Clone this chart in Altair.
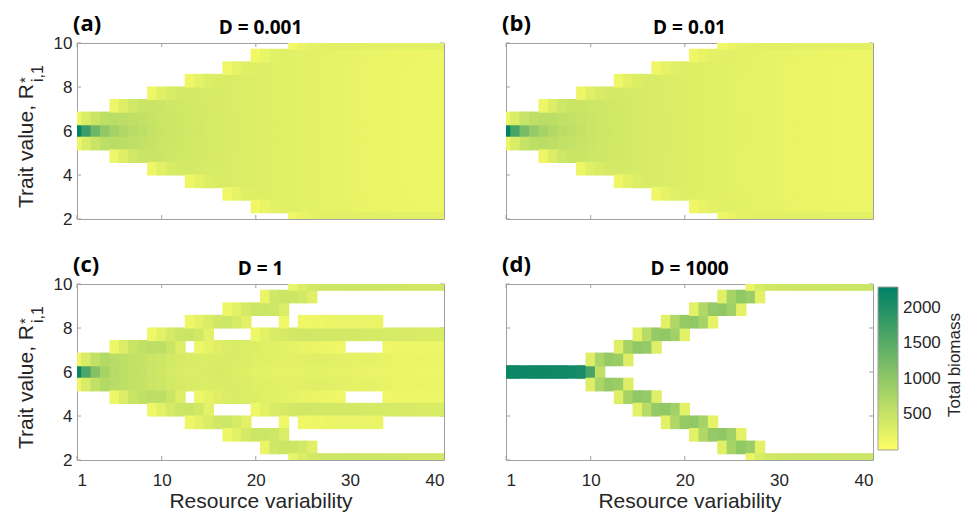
import altair as alt
import pandas as pd

# ---------------- data ----------------
x_ticks = [1, 10, 20, 30, 40]
y_ticks = [2, 4, 6, 8, 10]
trait_values = [2.0, 2.571, 3.143, 3.714, 4.286, 4.857, 5.429, 6.0,
                6.571, 7.143, 7.714, 8.286, 8.857, 9.429, 10.0]
half_bin = 0.2857
cbar_ticks = [500, 1000, 1500, 2000]
cbar_domain = [0, 2290]
cbar_title = "Total biomass"

panel_letters = ["(a)", "(b)", "(c)", "(d)"]
panel_titles = ["D = 0.001", "D = 0.01", "D = 1", "D = 1000"]

# panel (a): biomass per trait row, (first column, values per column)
A7 = [2250, 1750, 1300, 1000, 820, 700, 630, 580, 520, 480,
      450, 430, 410, 395, 380, 365, 350, 340, 325, 310,
      295, 285, 275, 265, 255, 245, 235, 225, 215, 205,
      198, 192, 186, 180, 175, 170, 166, 162, 158, 155]
A8 = [160, 320, 480, 580, 620, 600, 570, 540, 500, 470,
      445, 425, 405, 390, 375, 360, 348, 336, 322, 308,
      295, 285, 275, 265, 255, 245, 235, 225, 215, 205,
      198, 192, 186, 180, 175, 170, 166, 162, 158, 155]
A9 = [160, 300, 420, 480, 480, 460,
      440, 420, 400, 385, 372, 358, 345, 333, 320, 306,
      294, 284, 274, 264, 254, 244, 234, 224, 214, 205,
      198, 192, 186, 180, 175, 170, 166, 162, 158, 155]
A10 = [150, 270, 350, 390, 390, 380, 368, 355, 343, 332, 320, 306,
       294, 284, 274, 264, 254, 244, 234, 224, 214, 205,
       198, 192, 186, 180, 175, 170, 166, 162, 158, 155]
A11 = [145, 240, 310, 340, 340, 330, 318, 305,
       294, 284, 274, 264, 254, 244, 234, 224, 214, 205,
       198, 192, 186, 180, 175, 170, 166, 162, 158, 155]
A12 = [140, 220, 280, 300,
       295, 286, 276, 266, 256, 246, 236, 226, 216, 207,
       200, 194, 188, 182, 177, 172, 168, 164, 160, 157]
A13 = [135, 200, 250, 270, 268, 260, 250, 240, 230, 222, 214,
       206, 200, 194, 188, 183, 178, 174, 170, 166, 162]
A14 = [130, 190, 235, 255, 262, 265, 265, 264, 262, 260, 258, 256, 254,
       252, 250, 248, 246]
rows_a = {7: [(1, A7)], 8: [(1, A8)], 6: [(1, A8)], 9: [(5, A9)], 5: [(5, A9)],
          10: [(9, A10)], 4: [(9, A10)], 11: [(13, A11)], 3: [(13, A11)],
          12: [(17, A12)], 2: [(17, A12)], 13: [(20, A13)], 1: [(20, A13)],
          14: [(24, A14)], 0: [(24, A14)]}

# panel (b)
B7 = [2250, 1650, 1200, 950, 800, 690, 620, 570, 515, 475,
      445, 425, 405, 390, 375, 360, 347, 335, 322, 308,
      295, 285, 275, 265, 255, 245, 235, 225, 215, 205,
      198, 192, 186, 180, 175, 170, 166, 162, 158, 155]
B8 = [170, 330, 490, 580, 610, 590, 560, 530, 495, 465,
      440, 420, 402, 387, 372, 358, 346, 334, 320, 306,
      294, 284, 274, 264, 254, 244, 234, 224, 214, 205,
      198, 192, 186, 180, 175, 170, 166, 162, 158, 155]
B9 = [170, 310, 430, 480, 478, 458,
      438, 418, 398, 383, 370, 356, 344, 332, 318, 305,
      293, 283, 273, 263, 253, 243, 233, 223, 213, 204,
      197, 191, 185, 180, 175, 170, 166, 162, 158, 155]
B10 = [155, 275, 350, 385, 385, 376, 365, 352, 341, 330, 318, 305,
       293, 283, 273, 263, 253, 243, 233, 223, 213, 204,
       197, 191, 185, 180, 175, 170, 166, 162, 158, 155]
B11 = [150, 245, 310, 338, 338, 328, 316, 304,
       293, 283, 273, 263, 253, 243, 233, 223, 213, 204,
       197, 191, 185, 180, 175, 170, 166, 162, 158, 155]
B12 = [145, 225, 280, 300, 294, 285, 275, 265, 255, 245, 235, 225, 215, 206,
       199, 193, 187, 181, 176, 171, 167, 163, 159, 156]
B13 = [140, 210, 255, 268, 262, 252, 242, 232, 222, 214,
       206, 200, 194, 188, 183, 178, 174, 170, 166, 162]
B14 = [135, 195, 235, 255, 262, 264, 264, 263, 261, 259, 257, 255, 253,
       251, 249, 247, 245]
rows_b = {7: [(1, B7)], 8: [(1, B8)], 6: [(1, B8)], 9: [(5, B9)], 5: [(5, B9)],
          10: [(9, B10)], 4: [(9, B10)], 11: [(13, B11)], 3: [(13, B11)],
          12: [(17, B12)], 2: [(17, B12)], 13: [(21, B13)], 1: [(21, B13)],
          14: [(24, B14)], 0: [(24, B14)]}

# panel (c)
C7 = [2200, 1600, 1100, 800, 650, 600, 560, 520, 470, 420,
      380, 350, 330, 320, 340, 360, 340, 310, 280, 260,
      250, 240, 230, 230, 240, 250, 250, 240, 230, 220,
      210, 200, 195, 190, 185, 180, 175, 170, 165, 160]
C8 = [170, 350, 560, 680, 640, 580, 540, 500, 460, 430,
      400, 370, 350, 330, 320, 330, 340, 330, 310, 290,
      280, 270, 260, 260, 270, 280, 280, 270, 260, 250,
      240, 230, 220, 210, 200, 195, 190, 185, 180, 175]
C9 = [(5, [160, 320, 480, 560, 600, 580, 480, 300]),
      (14, [150, 220, 280, 320, 340, 330, 310, 290, 270, 250, 230, 210, 195, 180, 165, 150]),
      (34, [140, 160, 170, 170, 170, 165, 160])]
C10 = [(9, [150, 260, 380, 460, 480, 420, 260]),
       (20, [150, 250, 320, 370, 400, 410, 410, 405, 400, 395, 390, 385, 380, 375,
             370, 365, 360, 355, 350, 345, 340])]
C11 = [(13, [140, 230, 330, 420, 440, 380, 250]),
       (23, [150]),
       (25, [130, 150, 170, 185, 195, 200, 200, 195, 185])]
C12 = [(17, [150, 260, 380, 450, 470, 430, 330])]
C13 = [(21, [200, 420, 460, 450, 400, 280])]
C14 = [(24, [200, 320, 400, 430, 440, 445, 445, 445, 440, 440, 435, 430, 425, 420,
             415, 410, 405])]
rows_c = {7: [(1, C7)], 8: [(1, C8)], 6: [(1, C8)], 9: C9, 5: C9, 10: C10, 4: C10,
          11: C11, 3: C11, 12: C12, 2: C12, 13: C13, 1: C13, 14: C14, 0: C14}

# panel (d)
D7 = [(1, [2200, 2190, 2180, 2170, 2160, 2150, 2140, 2120, 2080, 1650, 550])]
D8 = [(10, [300, 750, 950, 900, 300])]
D9 = [(13, [300, 800, 1000, 950, 300])]
D10 = [(15, [250, 650, 950, 1000, 850, 250])]
D11 = [(18, [250, 700, 950, 1000, 800, 220])]
D12 = [(21, [250, 700, 950, 1000, 850, 230])]
D13 = [(24, [280, 800, 1000, 900, 250])]
D14 = [(27, [200, 350, 420, 440, 450, 450, 450, 450, 455, 460, 460, 465, 470, 470])]
rows_d = {7: D7, 8: D8, 6: D8, 9: D9, 5: D9, 10: D10, 4: D10, 11: D11, 3: D11,
          12: D12, 2: D12, 13: D13, 1: D13, 14: D14, 0: D14}

all_rows = [rows_a, rows_b, rows_c, rows_d]

# ---------------- styling ----------------
W, H = 367, 176
FRAME = "#a0a0a0"
TXT = "#262626"
LBL_FONT = "Liberation Sans"
BOLD_FONT = "Open Sans"
X_HALF = 0.55     # half cell width incl. a tiny overlap that hides anti-alias seams
Y_HALF = half_bin + 0.025

xscale = alt.Scale(domain=[1, 40], nice=False, zero=False)
yscale = alt.Scale(domain=[2, 10], nice=False, zero=False)
cscale = alt.Scale(domain=cbar_domain, range=["#FFFF66", "#008066"], interpolate="rgb")

color_enc = alt.Color(
    "biomass:Q", scale=cscale,
    legend=alt.Legend(
        type="gradient", orient="none", legendX=801, legendY=244, direction="vertical",
        gradientLength=163, gradientThickness=20, values=cbar_ticks, format="d",
        title=None,
        labelFontSize=17, labelFont=LBL_FONT, labelColor=TXT, labelOffset=5,
        gradientStrokeColor=FRAME, gradientStrokeWidth=1,
    ),
)


def text_layer(txt, **kw):
    pos = {k: kw.pop(k) for k in ["x", "y"]}
    return alt.Chart(pd.DataFrame({"t": [txt]})).mark_text(**kw).encode(
        text="t:N", x=alt.value(pos["x"]), y=alt.value(pos["y"]))


def make_panel(i):
    recs = []
    for k, segs in all_rows[i].items():
        for start, vals in segs:
            for j, v in enumerate(vals):
                recs.append({"col": start + j, "trait": trait_values[k], "biomass": v})
    df = pd.DataFrame(recs)

    xaxis = None
    if i >= 2:
        xaxis = alt.Axis(values=x_ticks, title="Resource variability", ticks=False, tickSize=0,
                         domain=False, grid=False, labelFontSize=17, labelFont=LBL_FONT,
                         labelColor=TXT, labelPadding=12, titleFontSize=21, titleFont=LBL_FONT,
                         titleFontWeight="normal", titleColor=TXT, titlePadding=2)
    yaxis = None
    if i % 2 == 0:
        yaxis = alt.Axis(values=y_ticks, title=None, ticks=False, tickSize=0, domain=False,
                         grid=False, labelFontSize=17, labelFont=LBL_FONT, labelColor=TXT,
                         labelPadding=5)

    heat = alt.Chart(df).transform_calculate(
        x0=f"datum.col - {X_HALF}", x1=f"datum.col + {X_HALF}",
        y0=f"datum.trait - {Y_HALF}", y1=f"datum.trait + {Y_HALF}",
    ).mark_rect(clip=True).encode(
        x=alt.X("x0:Q", scale=xscale, axis=xaxis),
        x2="x1:Q",
        y=alt.Y("y0:Q", scale=yscale, axis=yaxis),
        y2="y1:Q",
        color=color_enc,
    )

    tx = pd.DataFrame({"v": x_ticks})
    ty = pd.DataFrame({"v": y_ticks})
    t_bot = alt.Chart(tx).mark_rule(color=FRAME, strokeWidth=1).encode(
        x=alt.X("v:Q", scale=xscale, axis=xaxis), y=alt.value(H), y2=alt.value(H - 4))
    t_top = alt.Chart(tx).mark_rule(color=FRAME, strokeWidth=1).encode(
        x=alt.X("v:Q", scale=xscale, axis=xaxis), y=alt.value(0), y2=alt.value(4))
    t_left = alt.Chart(ty).mark_rule(color=FRAME, strokeWidth=1).encode(
        y=alt.Y("v:Q", scale=yscale, axis=yaxis), x=alt.value(0), x2=alt.value(4))
    t_right = alt.Chart(ty).mark_rule(color=FRAME, strokeWidth=1).encode(
        y=alt.Y("v:Q", scale=yscale, axis=yaxis), x=alt.value(W), x2=alt.value(W - 4))

    letter = text_layer(panel_letters[i], x=-4, y=-12, font=BOLD_FONT, fontSize=22,
                        fontWeight="bold", color="#000000", align="left",
                        baseline="alphabetic")
    title = text_layer(panel_titles[i], x=W / 2, y=-9, font=BOLD_FONT, fontSize=19,
                       fontWeight="bold", color="#000000", align="center",
                       baseline="alphabetic")

    layers = [t_bot, t_top, t_left, t_right, heat, letter, title]

    if i % 2 == 0:
        layers += [
            text_layer("Trait value, R", x=-44, y=41, font=LBL_FONT, fontSize=21, color=TXT,
                       angle=270, align="right", baseline="alphabetic"),
            text_layer("*", x=-47, y=40, font=LBL_FONT, fontSize=15, color=TXT,
                       angle=270, align="left", baseline="alphabetic"),
            text_layer("i,1", x=-34, y=39, font=LBL_FONT, fontSize=16, color=TXT,
                       angle=270, align="left", baseline="alphabetic"),
        ]

    if i == 3:
        layers.append(text_layer(cbar_title, x=454, y=81, font=LBL_FONT, fontSize=17,
                                 color=TXT, angle=270, align="center",
                                 baseline="alphabetic"))

    return alt.layer(*layers).properties(width=W, height=H)


panels = [make_panel(i) for i in range(4)]

chart = alt.concat(
    *panels, columns=2, spacing={"row": 65, "column": 62}, bounds="flush",
).resolve_scale(color="shared").properties(
    background="white",
    padding={"left": 15, "top": 12, "right": 0, "bottom": 0},
).configure_view(stroke=FRAME, strokeWidth=1)

chart.save("out.html", embed_options={"renderer": "svg", "actions": False})
